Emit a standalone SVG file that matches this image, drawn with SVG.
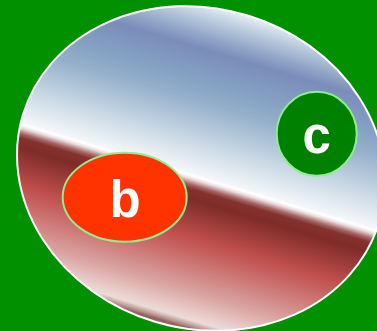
<svg xmlns="http://www.w3.org/2000/svg" width="377" height="331" viewBox="0 0 377 331">
<defs>
<style>
.lbl{font-family:"Liberation Sans",Arial,sans-serif;font-weight:bold;font-size:51px;fill:#ffffff;text-anchor:middle}
.inner{stroke:#90ee90;stroke-width:2}
</style>
<linearGradient id="metal" x1="0" y1="0" x2="0" y2="1">
<stop offset="0" stop-color="#e8eff6"/>
<stop offset="0.035" stop-color="#c4d4e3"/>
<stop offset="0.1" stop-color="#92a6c8"/>
<stop offset="0.14" stop-color="#7b8cba"/>
<stop offset="0.24" stop-color="#86a2c3"/>
<stop offset="0.3" stop-color="#95afcb"/>
<stop offset="0.425" stop-color="#cad9e5"/>
<stop offset="0.52" stop-color="#f3f6f9"/>
<stop offset="0.53" stop-color="#ffffff"/>
<stop offset="0.54" stop-color="#eadcdc"/>
<stop offset="0.548" stop-color="#c9a3a3"/>
<stop offset="0.557" stop-color="#a36564"/>
<stop offset="0.57" stop-color="#85322f"/>
<stop offset="0.6" stop-color="#7e2b29"/>
<stop offset="0.714" stop-color="#bf4f4c"/>
<stop offset="0.754" stop-color="#c66260"/>
<stop offset="0.876" stop-color="#d9a3a1"/>
<stop offset="0.95" stop-color="#ebd3d0"/>
<stop offset="0.963" stop-color="#e9dcd8"/>
<stop offset="0.98" stop-color="#b89490"/>
<stop offset="0.99" stop-color="#8f5f5c"/>
<stop offset="1" stop-color="#a07472"/>
</linearGradient>
</defs>
<rect x="0" y="0" width="377" height="331" fill="#009000"/>
<g id="a">
<ellipse cx="0" cy="0" rx="186" ry="160" transform="translate(201 168.5) rotate(16.7)" fill="url(#metal)" stroke="#ffffff" stroke-width="2"/>
</g>
<g id="edges"></g>
<g id="b">
<ellipse class="inner" cx="124.7" cy="197.2" rx="62" ry="44.5" fill="#ff3300"/>
<text class="lbl" x="125" y="216.5">b</text>
</g>
<g id="c">
<ellipse class="inner" cx="316.7" cy="133.8" rx="40" ry="42" fill="#008000"/>
<text class="lbl" x="316.7" y="153.3">c</text>
</g>
</svg>
